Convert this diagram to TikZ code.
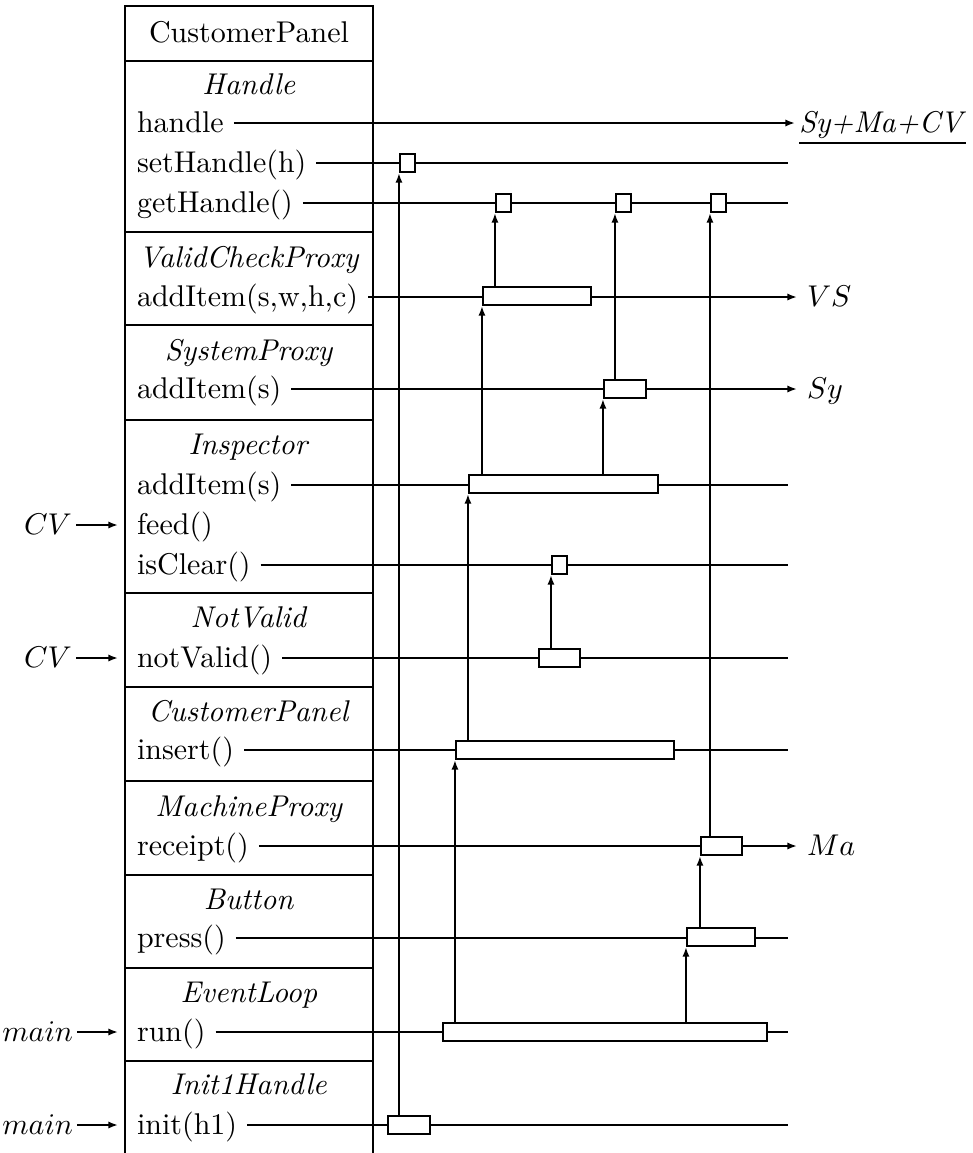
\documentclass[tikz,border=0pt]{standalone}
\usetikzlibrary{arrows.meta,fit}

\begin{document}
\begin{tikzpicture}[x=0.3333pt,y=-0.3333pt,line width=0.7pt,
	meth/.style={anchor=west,inner sep=3pt,text height=1.7ex,text depth=.2ex},
	clsname/.style={inner sep=1pt,text height=1.7ex,text depth=.2ex},
	act/.style={draw,fill=white,inner sep=0pt},
	call/.style={-{Latex[length=3.2pt,width=2.4pt]}}]
	\useasboundingbox (0,0) rectangle (972,1153);
	\newcommand\boxleft{125};
	\newcommand\boxright{373};
	\newcommand\lineright{788};
	% class column, open at the bottom
	\draw (\boxleft,1153) -- (\boxleft,6) -- (\boxright,6) -- (\boxright,1153);
	\foreach \y in {61,232,325,420,593,687,781,875,968,1061} {
		\draw (\boxleft,\y) -- (\boxright,\y);
	}
	\node[clsname] (cls) at (249,33) {CustomerPanel};
	\foreach \name/\y/\txt in {tHandle/85/Handle, tVcp/258/ValidCheckProxy, tSp/351/SystemProxy,
		tInsp/445/Inspector, tNv/618/NotValid, tCp/712/CustomerPanel, tMp/807/MachineProxy,
		tBtn/900/Button, tLoop/993/EventLoop, tInit/1085/Init1Handle} {
		\node[clsname] (\name) at (249,\y) {\textit{\txt}};
	}
	\foreach \name/\y/\txt in {hdl/123/handle, seth/163/setHandle(h), geth/203/getHandle(),
		vcpadd/297/{addItem(s,w,h,c)}, spadd/389/addItem(s), inadd/485/addItem(s), feed/525/feed(),
		iscl/565/isClear(), notv/658/notValid(), ins/750/insert(), rcpt/846/receipt(),
		prs/938/press(), run/1032/run(), init/1125/init(h1)} {
		\node[meth] (\name) at (127,\y) {\txt};
	}
	\foreach \name in {seth,geth,inadd,iscl,notv,ins,prs,run,init} {
		\coordinate (\name-e) at (\lineright,0 |- \name);
		\draw (\name) -- (\name-e);
	}
	% outgoing calls
	\node[meth,inner sep=1pt] (smc) at (795,123) {\underline{\textit{Sy+Ma+CV}}};
	\node[meth,inner sep=3pt] (vs) at (797,297) {$VS$};
	\node[meth,inner sep=3pt] (sy) at (797,389) {$Sy$};
	\node[meth,inner sep=3pt] (ma) at (797,846) {$Ma$};
	\draw[call] (hdl) -- (smc);
	\draw[call] (vcpadd) -- (vs);
	\draw[call] (spadd) -- (sy);
	\draw[call] (rcpt) -- (ma);
	% incoming calls
	\node[meth,anchor=east,inner sep=1pt] (cv1) at (76,525) {$CV$};
	\node[meth,anchor=east,inner sep=1pt] (cv2) at (76,658) {$CV$};
	\node[meth,anchor=east,inner sep=1pt] (main1) at (77,1032) {$main$};
	\node[meth,anchor=east,inner sep=1pt] (main2) at (77,1125) {$main$};
	\draw[call,shorten >=3pt] (cv1) -- (feed);
	\draw[call,shorten >=3pt] (cv2) -- (notv);
	\draw[call,shorten >=3pt] (main1) -- (run);
	\draw[call,shorten >=3pt] (main2) -- (init);
	% activations
	\foreach \name/\xa/\ya/\xb/\yb in {sethbox/400/154/415/172, gh1/496/194/511/212,
		gh2/616/194/631/212, gh3/711/194/726/212, vcpbox/483/287/591/305, spbox/604/380/646/398,
		inbox/469/475/658/493, iclbox/552/556/567/574, nvbox/539/649/580/667,
		insbox/456/741/674/759, mpbox/701/837/742/855, prsbox/687/928/755/946,
		runbox/443/1023/767/1041, initbox/388/1116/430/1134} {
		\node[act,fit={(\xa,\ya) (\xb,\yb)}] (\name) {};
	}
	\foreach \from/\to in {initbox/sethbox, vcpbox/gh1, spbox/gh2, mpbox/gh3, inbox/vcpbox,
		inbox/spbox, nvbox/iclbox, insbox/inbox, runbox/insbox, runbox/prsbox, prsbox/mpbox} {
		\draw[call] (\from.north -| \to.west) -- (\to.south west);
	}
\end{tikzpicture}
\end{document}
